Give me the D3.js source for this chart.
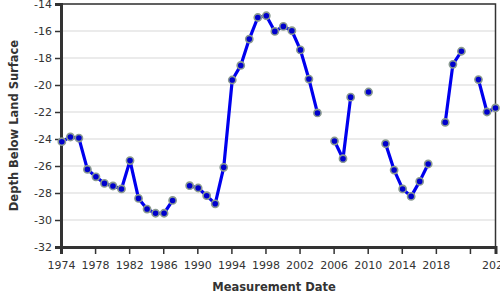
<!DOCTYPE html>
<html><head><meta charset="utf-8">
<script src="https://cdn.jsdelivr.net/npm/d3@7"></script>
<style>body{margin:0;background:#fff}svg{display:block}text{font-family:"DejaVu Sans",Verdana,sans-serif}</style>
</head><body><svg id="c" width="500" height="300"></svg>
<script>
const dates = [1974.1,1975.1,1976.1,1977.1,1978.1,1979.1,1980.1,1981.1,1982.1,1983.1,1984.1,1985.1,1986.1,1987.1,1988.1,1989.1,1990.1,1991.1,1992.1,1993.1,1994.1,1995.1,1996.1,1997.1,1998.1,1999.1,2000.1,2001.1,2002.1,2003.1,2004.1,2005.1,2006.1,2007.1,2008.0,2009.0,2010.1,2011.1,2012.1,2013.1,2014.1,2015.1,2016.1,2017.1,2018.1,2019.1,2020.0,2021.0,2022.0,2023.0,2024.0,2025.0];
const depths = [-24.2,-23.85,-23.93,-26.25,-26.8,-27.29,-27.48,-27.7,-25.6,-28.4,-29.19,-29.5,-29.5,-28.55,null,-27.46,-27.63,-28.2,-28.8,-26.1,-19.63,-18.55,-16.6,-15.0,-14.87,-16.03,-15.66,-15.98,-17.4,-19.56,-22.07,null,-24.15,-25.46,-20.9,null,-20.52,null,-24.35,-26.3,-27.7,-28.25,-27.14,-25.85,null,-22.77,-18.47,-17.5,null,-19.6,-22.0,-21.7];
const xTicks = [1974,1978,1982,1986,1990,1994,1998,2002,2006,2010,2014,2018,2022,2025];
const xTickLabels = ["1974","1978","1982","1986","1990","1994","1998","2002","2006","2010","2014","2018","","2025"];
const yTicks = [-14,-16,-18,-20,-22,-24,-26,-28,-30,-32];
const data = dates.map((d,i)=>({x:d,y:depths[i]}));

const L=61,R=495.5,T=4,B=247;
const svg=d3.select("#c");
const x=d3.scaleLinear().domain([1974,2025]).range([L,R]);
const y=d3.scaleLinear().domain([-32,-14]).range([B,T]);

// grid
svg.append("g").selectAll("line").data(yTicks).join("line")
  .attr("x1",L).attr("x2",R).attr("y1",d=>y(d)).attr("y2",d=>y(d))
  .attr("stroke","#d8d8d8").attr("stroke-width",1.2);

// frame top/right
svg.append("rect").attr("x",L).attr("y",T).attr("width",R-L).attr("height",B-T)
  .attr("fill","none").attr("stroke","#333").attr("stroke-width",1.5);

// axes
const yAx=svg.append("g").attr("transform",`translate(${L},0)`)
  .call(d3.axisLeft(y).tickValues(yTicks).tickSize(6).tickPadding(3).tickFormat(d=>d3.format("d")(d).replace("−","-")));
const xAx=svg.append("g").attr("transform",`translate(0,${B})`)
  .call(d3.axisBottom(x).tickValues(xTicks).tickSize(7).tickPadding(7).tickFormat((d,i)=>xTickLabels[i]));
[yAx,xAx].forEach(a=>{
  a.select(".domain").attr("stroke","#333").attr("stroke-width",3);
  a.selectAll(".tick line").attr("stroke","#333").attr("stroke-width",1.5);
  a.selectAll("text").attr("fill","#333").style("font-size","11px").style("font-family","DejaVu Sans, sans-serif");
});

// line
const line=d3.line().defined(d=>d.y!==null).x(d=>x(d.x)).y(d=>y(d.y));
svg.append("path").datum(data).attr("d",line).attr("fill","none")
  .attr("stroke","#0000ee").attr("stroke-width",3.2).attr("stroke-linejoin","round");

// points
svg.append("g").selectAll("circle").data(data.filter(d=>d.y!==null)).join("circle")
  .attr("cx",d=>x(d.x)).attr("cy",d=>y(d.y)).attr("r",3.6)
  .attr("fill","#0000cc").attr("stroke","#8a9a90").attr("stroke-width",1.6);

// titles
svg.append("text").attr("x",274).attr("y",291).attr("text-anchor","middle")
  .attr("fill","#333").style("font-size","11.5px").style("font-weight","bold").text("Measurement Date");
svg.append("text").attr("transform",`translate(18,${(T+B)/2}) rotate(-90)`).attr("text-anchor","middle")
  .attr("fill","#333").style("font-size","11.5px").style("font-weight","bold").text("Depth Below Land Surface");
</script></body></html>
